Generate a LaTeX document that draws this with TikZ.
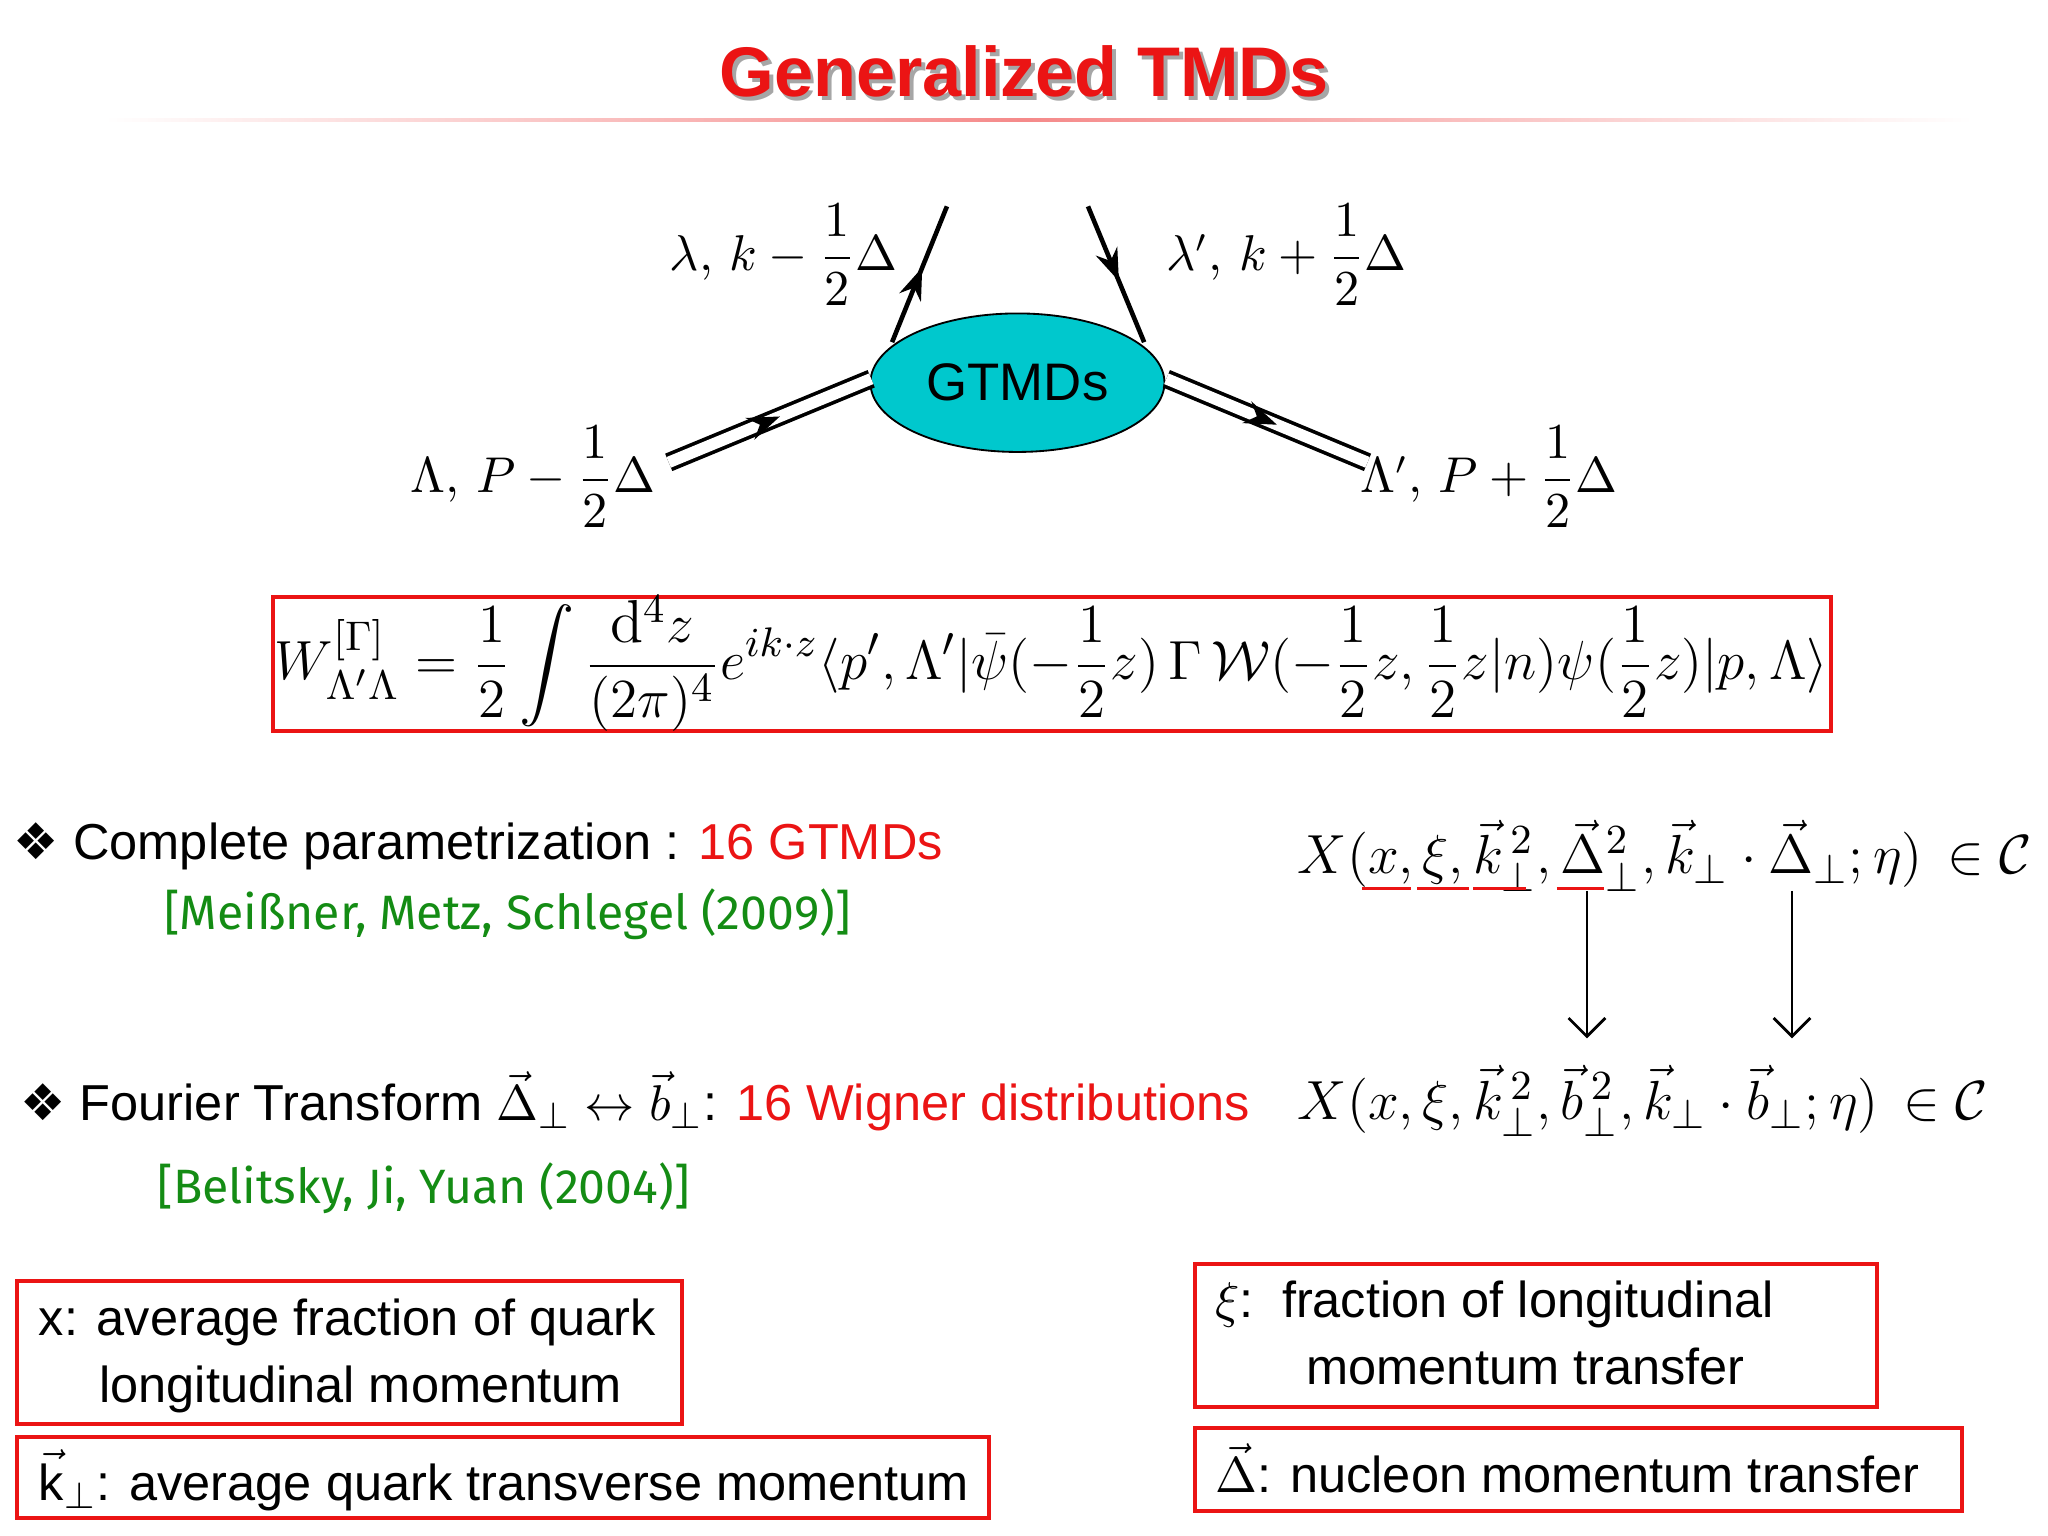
\documentclass[tikz,border=0pt]{standalone}
\usepackage{amsmath}
\usepackage{fontspec}
\setsansfont{Liberation Sans}
\newfontfamily\dejavu{DejaVu Sans}
\newfontfamily\greenfont{Fira Sans}
\usetikzlibrary{arrows.meta,shapes.geometric,decorations.markings}
\definecolor{tred}{RGB}{235,20,20}
\definecolor{tgreen}{RGB}{20,140,20}
\definecolor{gcyan}{RGB}{0,200,205}
\begin{document}
\begin{tikzpicture}[x=0.01cm,y=-0.01cm,
  redbox/.style={draw=tred,line width=0.9pt},
  body/.style={font=\sffamily\fontsize{11}{13.5}\selectfont,inner sep=0},
  cite/.style={font=\greenfont\fontsize{10.5}{12}\selectfont,text=tgreen,inner sep=0,anchor=west},
  midarrow/.style={postaction={decorate},decoration={markings,mark=at position 0.55 with {\arrow{Stealth[length=7pt,width=5pt]}}}},
  lbl/.style={font=\fontsize{10.5}{13}\selectfont,inner sep=0}]
\useasboundingbox (0,0) rectangle (1568,1176);
% title
\node[font=\sffamily\bfseries\fontsize{15.3}{18}\selectfont,text=black!35] at (787,58) {Generalized TMDs};
\node (title)[font=\sffamily\bfseries\fontsize{15.3}{18}\selectfont,text=tred] at (784,55) {Generalized TMDs};
\shade[left color=white,right color=tred!50] (80,91) rectangle (784,93);
\shade[left color=tred!50,right color=white] (784,91) rectangle (1510,93);
% diagram
\node (g)[ellipse,draw=black,fill=gcyan,inner sep=0,
  minimum width=2.25cm,minimum height=1.06cm,font=\sffamily\fontsize{11.5}{13}\selectfont] at (779,293) {GTMDs};
\coordinate (q1a) at (683,262); \coordinate (q1b) at (725,158);
\coordinate (q2a) at (833,158); \coordinate (q2b) at (876,262);
\draw[line width=1pt,midarrow] (q1a) -- (q1b);
\draw[line width=1pt,midarrow] (q2a) -- (q2b);
\coordinate (p1a) at (512,354); \coordinate (p1b) at (667,290);
\coordinate (p2a) at (893,290); \coordinate (p2b) at (1047,354);
\draw[line width=0.8pt,double distance=2.5pt,midarrow] (p1a) -- (p1b);
\draw[line width=0.8pt,double distance=2.5pt,midarrow] (p2a) -- (p2b);
\node (l1)[lbl] at (600,195) {$\lambda,\,k-\dfrac12\Delta$};
\node (l2)[lbl] at (985,195) {$\lambda',\,k+\dfrac12\Delta$};
\node (l3)[lbl] at (408,365) {$\Lambda,\,P-\dfrac12\Delta$};
\node (l4)[lbl] at (1140,365) {$\Lambda',\,P+\dfrac12\Delta$};
% formula
\draw[redbox] (209,457) rectangle (1402,560);
\node (f)[inner sep=0] at (805,508) {\fontsize{13.2}{15}\selectfont $\displaystyle W^{[\Gamma]}_{\Lambda'\Lambda}=\frac12\int\frac{\mathrm{d}^4z}{(2\pi)^4}e^{ik\cdot z}\langle p',\Lambda'|\bar\psi(-\frac12 z)\,\Gamma\,\mathcal{W}(-\frac12 z,\frac12 z|n)\psi(\frac12 z)|p,\Lambda\rangle$};
% bullets
\node (b1)[body,anchor=west] at (10,648) {{\dejavu ❖} Complete parametrization : \textcolor{tred}{16 GTMDs}};
\node (c1)[cite] at (125,700) {[Meißner, Metz, Schlegel (2009)]};
\node (b2)[body,anchor=west] at (15,843) {{\dejavu ❖} Fourier Transform $\vec\Delta_\perp\leftrightarrow\vec b_\perp$: \textcolor{tred}{16 Wigner distributions}};
\node (c2)[cite] at (120,910) {[Belitsky, Ji, Yuan (2004)]};
\node (x1)[inner sep=0,anchor=west] at (993,655) {\fontsize{12.5}{14}\selectfont $X(x,\xi,\vec k_\perp^{\,2},\vec\Delta_\perp^{2},\vec k_\perp\cdot\vec\Delta_\perp;\eta)\,\in\mathcal{C}$};
\node (x2)[inner sep=0,anchor=west] at (993,843) {\fontsize{12.5}{14}\selectfont $X(x,\xi,\vec k_\perp^{\,2},\vec b_\perp^{\,2},\vec k_\perp\cdot\vec b_\perp;\eta)\,\in\mathcal{C}$};
\draw[tred,line width=0.6pt] (1043,680)--(1080,680) (1085,680)--(1125,680) (1128,680)--(1168,680) (1192,680)--(1228,680);
\coordinate (a1s) at (1215,682); \coordinate (a1e) at (1215,795);
\coordinate (a2s) at (1372,682); \coordinate (a2e) at (1372,795);
\draw[-{Straight Barb[length=4pt]},line width=0.6pt] (a1s) -- (a1e);
\draw[-{Straight Barb[length=4pt]},line width=0.6pt] (a2s) -- (a2e);
% boxes
\draw[redbox] (13,981) rectangle (522,1090);
\node (t1)[body,align=left,anchor=north west] at (29,994) {x: average fraction of quark\\[1pt]\hspace*{1.2em}longitudinal momentum};
\draw[redbox] (13,1100) rectangle (757,1162);
\node (t2)[body,anchor=west] at (29,1133) {$\vec{\text{k}}_\perp$: average quark transverse momentum};
\draw[redbox] (915,968) rectangle (1437,1077);
\node (t3)[body,align=left,anchor=north west] at (930,980) {$\xi$:\ \ fraction of longitudinal\\[1pt]\hspace*{1.8em}momentum transfer};
\draw[redbox] (915,1093) rectangle (1502,1157);
\node (t4)[body,anchor=west] at (930,1124) {$\vec\Delta$: nucleon momentum transfer};
\end{tikzpicture}
\end{document}
